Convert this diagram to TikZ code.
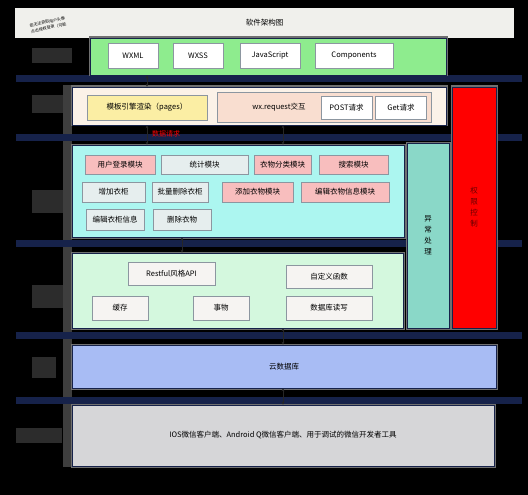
\documentclass[tikz,border=0pt]{standalone}
\usepackage{fontspec}
\setmainfont{Noto Sans CJK SC}
\usetikzlibrary{arrows.meta}

\definecolor{navyband}{RGB}{22,34,74}
\definecolor{titlegrey}{RGB}{240,240,236}
\definecolor{darkpad}{RGB}{44,44,44}
\definecolor{stripgrey}{RGB}{62,62,62}
\definecolor{framegrey}{RGB}{112,112,112}
\definecolor{viewgreen}{RGB}{142,236,142}
\definecolor{linen}{RGB}{251,242,232}
\definecolor{tplyellow}{RGB}{251,238,164}
\definecolor{reqpeach}{RGB}{249,222,208}
\definecolor{logiccyan}{RGB}{172,246,240}
\definecolor{modpink}{RGB}{248,190,190}
\definecolor{modgrey}{RGB}{230,238,238}
\definecolor{svcmint}{RGB}{212,248,222}
\definecolor{svcwhite}{RGB}{246,244,242}
\definecolor{excteal}{RGB}{138,216,200}
\definecolor{authred}{RGB}{255,0,0}
\definecolor{dbblue}{RGB}{168,188,244}
\definecolor{clientgrey}{RGB}{214,214,216}
\definecolor{boxline}{RGB}{140,150,160}

\tikzset{
  wh/.style 2 args={minimum width=#1, minimum height=#2},
  layer/.style={fill=#1, draw=navyband, line width=0.7pt, inner sep=0pt,
    preaction={draw=framegrey, line width=3pt}},
  mod/.style={fill=#1, draw=boxline, line width=0.6pt, inner sep=0pt},
  link/.style={{Stealth[length=3pt,width=3pt]}-{Stealth[length=3pt,width=3pt]},
    line width=0.9pt, draw=black!85},
}

\begin{document}
\begin{tikzpicture}[x=1pt, y=-1pt, font=\fontsize{7.5}{9}\selectfont]
  \useasboundingbox (0,0) rectangle (528,495);
  \fill[black] (0,0) rectangle (528,495);

  % title bar
  \node[fill=titlegrey, wh={499}{30}, inner sep=0pt] (title) at (264.5,23) {软件架构图};
  \node[rotate=13, font=\fontsize{4}{6}\selectfont, align=left, inner sep=0pt] (note) at (48,25)
    {若无法获取用户头像\\点击授权登录（可能};

  % left strip, label pads and horizontal bands
  \fill[stripgrey] (63,85) rectangle (72,467);
  \fill[darkpad] (32,48) rectangle (72,63);
  \fill[darkpad] (32,95) rectangle (63,113);
  \fill[darkpad] (32,190) rectangle (63,213);
  \fill[darkpad] (32,285) rectangle (63,308);
  \fill[darkpad] (32,357) rectangle (56,378);
  \fill[darkpad] (16,428) rectangle (62,443);
  \foreach \y in {75,134,240,332,397}
    \fill[navyband] (16,\y) rectangle (522,\y+7);

  % layers
  \node[layer=viewgreen, wh={356}{37}] (view) at (268,56.5) {};
  \node[layer=linen, wh={374}{38}] (page) at (259,106) {};
  \node[layer=logiccyan, wh={332}{92}] (logic) at (238,191) {};
  \node[layer=svcmint, wh={331}{75}] (svc) at (237.5,290.5) {};
  \node[layer=dbblue, wh={424}{43}] (db) at (284,366.5) {云数据库};
  \node[layer=clientgrey, wh={422}{61}] (client) at (283,435.5)
    {IOS微信客户端、Android Q微信客户端、用于调试的微信开发者工具};

  % side columns
  \node[layer=excteal, wh={42}{185}, align=center, font=\fontsize{7.5}{11}\selectfont]
    (exc) at (428,235.5) {异\\常\\处\\理};
  \node[layer=authred, wh={44}{241}, align=center, text=red!40!black, font=\fontsize{7.5}{11}\selectfont]
    (auth) at (474,207.5) {权\\限\\控\\制};

  % view layer
  \node[mod=white, wh={50}{25}] (wxml) at (133,55.5) {WXML};
  \node[mod=white, wh={50}{25}] (wxss) at (198,55.5) {WXSS};
  \node[mod=white, wh={60}{25}] (js) at (270,55.5) {JavaScript};
  \node[mod=white, wh={78}{25}] (comp) at (354,55.5) {Components};

  % page layer
  \node[mod=tplyellow, wh={120}{25}] (tpl) at (147,107.5) {模板引擎渲染（pages）};
  \node[mod=reqpeach, wh={214}{30}] (req) at (324,107) {};
  \node[inner sep=0pt] (reqtxt) at (279,107) {wx.request交互};
  \node[mod=white, wh={51}{23}] (post) at (346.5,107.5) {POST请求};
  \node[mod=white, wh={51}{23}] (get) at (401,107.5) {Get请求};
  \node[text=red, font=\fontsize{7}{8}\selectfont, inner sep=0pt] (reqtag) at (166,134) {数据请求};

  % logic layer
  \node[mod=modpink, wh={70}{19}] (login) at (120,164.5) {用户登录模块};
  \node[mod=modgrey, wh={87}{19}] (stat) at (204.5,164.5) {统计模块};
  \node[mod=modpink, wh={57}{19}] (cat) at (282.5,164.5) {衣物分类模块};
  \node[mod=modpink, wh={69}{19}] (search) at (353.5,164.5) {搜索模块};
  \node[mod=modgrey, wh={63}{20}] (addw) at (113.5,192) {增加衣柜};
  \node[mod=modgrey, wh={56}{20}] (bdel) at (180,192) {批量删除衣柜};
  \node[mod=modpink, wh={71}{20}] (addc) at (257.5,192) {添加衣物模块};
  \node[mod=modpink, wh={88}{20}] (editc) at (345,192) {编辑衣物信息模块};
  \node[mod=modgrey, wh={58}{21}] (editw) at (115,219.5) {编辑衣柜信息};
  \node[mod=modgrey, wh={58}{21}] (delc) at (182,219.5) {删除衣物};

  % service layer
  \node[mod=svcwhite, wh={87}{23}] (api) at (171.5,273.5) {Restful风格API};
  \node[mod=svcwhite, wh={56}{24}] (cache) at (120,308) {缓存};
  \node[mod=svcwhite, wh={56}{24}] (trans) at (221,308) {事物};
  \node[mod=svcwhite, wh={86}{23}] (func) at (329,276.5) {自定义函数};
  \node[mod=svcwhite, wh={86}{24}] (dbrw) at (329,308) {数据库读写};

  % links between layers
  \coordinate (mid) at (283,0);
  \draw[link] (view.south -| tpl) -- (page.north -| tpl);
  \draw[link] (page.south -| tpl) -- (logic.north -| tpl);
  \draw[link] (page.south -| mid) -- (logic.north -| mid);
  \draw[link] (logic.south -| delc) -- (svc.north -| delc);
  \draw[link] (svc.south -| mid) -- (db.north -| mid);
  \draw[link] (db.south -| mid) -- (client.north -| mid);
\end{tikzpicture}
\end{document}
